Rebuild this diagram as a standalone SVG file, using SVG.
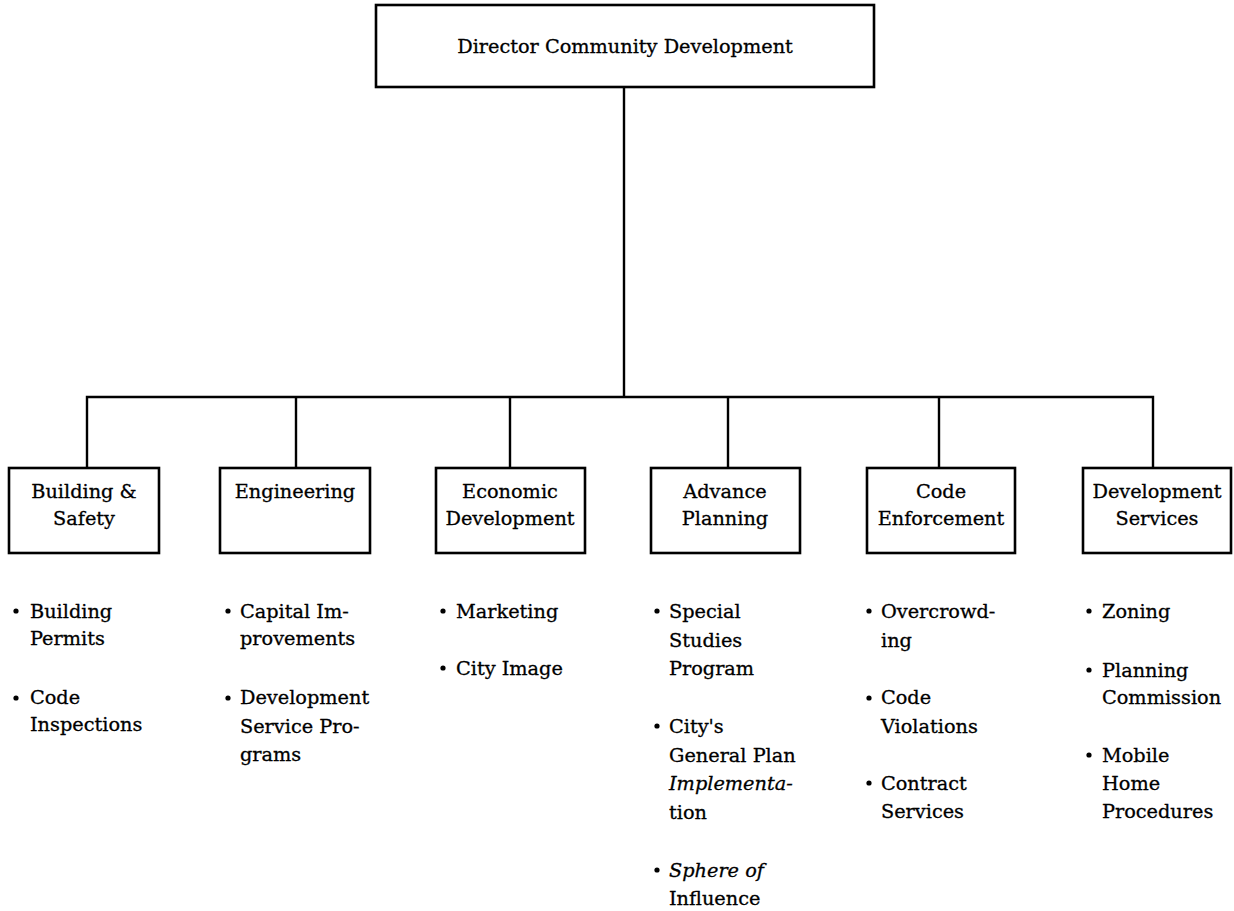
<svg xmlns="http://www.w3.org/2000/svg" width="1234" height="911" viewBox="0 0 1234 911">
<style>
.bg{fill:#fff}
.box{fill:#fff;stroke:#000;stroke-width:2.6}
.ln{fill:none;stroke:#000;stroke-width:2.4}
text{font-family:"DejaVu Serif","Liberation Serif",serif;font-size:19.3px;fill:#000;stroke:#000;stroke-width:0.3}
.c{text-anchor:middle}
.i{font-style:italic}
.dot{fill:#000}
</style>
<rect class="bg" x="0" y="0" width="1234" height="911"/>
<g id="connectors">
<path class="ln" d="M624 87V397"/>
<path class="ln" d="M87 468V397H1153V468"/>
<path class="ln" d="M296 397V468"/>
<path class="ln" d="M510 397V468"/>
<path class="ln" d="M728 397V468"/>
<path class="ln" d="M939 397V468"/>
</g>
<g id="director">
<rect class="box" x="376" y="5" width="498" height="82"/>
<text class="c" x="625" y="53">Director Community Development</text>
</g>
<g id="building-safety">
<rect class="box" x="9" y="468" width="150" height="85"/>
<text class="c" x="84" y="498">Building &amp;</text>
<text class="c" x="84" y="525">Safety</text>
<circle class="dot" cx="16" cy="611" r="2.6"/>
<text x="30" y="618">Building</text>
<text x="30" y="645">Permits</text>
<circle class="dot" cx="16" cy="698" r="2.6"/>
<text x="30" y="704">Code</text>
<text x="30" y="731">Inspections</text>
</g>
<g id="engineering">
<rect class="box" x="220" y="468" width="150" height="85"/>
<text class="c" x="295" y="498">Engineering</text>
<circle class="dot" cx="228" cy="611" r="2.6"/>
<text x="240" y="618">Capital Im-</text>
<text x="240" y="645">provements</text>
<circle class="dot" cx="228" cy="698" r="2.6"/>
<text x="240" y="704">Development</text>
<text x="240" y="733">Service Pro-</text>
<text x="240" y="761">grams</text>
</g>
<g id="economic-development">
<rect class="box" x="436" y="468" width="149" height="85"/>
<text class="c" x="510" y="498">Economic</text>
<text class="c" x="510" y="525">Development</text>
<circle class="dot" cx="443" cy="611" r="2.6"/>
<text x="456" y="618">Marketing</text>
<circle class="dot" cx="443" cy="668" r="2.6"/>
<text x="456" y="675">City Image</text>
</g>
<g id="advance-planning">
<rect class="box" x="651" y="468" width="149" height="85"/>
<text class="c" x="725" y="498">Advance</text>
<text class="c" x="725" y="525">Planning</text>
<circle class="dot" cx="657" cy="611" r="2.6"/>
<text x="669" y="618">Special</text>
<text x="669" y="647">Studies</text>
<text x="669" y="675">Program</text>
<circle class="dot" cx="657" cy="726" r="2.6"/>
<text x="669" y="733">City's</text>
<text x="669" y="762">General Plan</text>
<text class="i" x="669" y="790">Implementa-</text>
<text x="669" y="819">tion</text>
<circle class="dot" cx="657" cy="870" r="2.6"/>
<text class="i" x="669" y="877">Sphere of</text>
<text x="669" y="905">Influence</text>
</g>
<g id="code-enforcement">
<rect class="box" x="867" y="468" width="148" height="85"/>
<text class="c" x="941" y="498">Code</text>
<text class="c" x="941" y="525">Enforcement</text>
<circle class="dot" cx="869" cy="611" r="2.6"/>
<text x="881" y="618">Overcrowd-</text>
<text x="881" y="647">ing</text>
<circle class="dot" cx="869" cy="698" r="2.6"/>
<text x="881" y="704">Code</text>
<text x="881" y="733">Violations</text>
<circle class="dot" cx="869" cy="783" r="2.6"/>
<text x="881" y="790">Contract</text>
<text x="881" y="818">Services</text>
</g>
<g id="development-services">
<rect class="box" x="1083" y="468" width="148" height="85"/>
<text class="c" x="1157" y="498">Development</text>
<text class="c" x="1157" y="525">Services</text>
<circle class="dot" cx="1089" cy="611" r="2.6"/>
<text x="1102" y="618">Zoning</text>
<circle class="dot" cx="1089" cy="670" r="2.6"/>
<text x="1102" y="677">Planning</text>
<text x="1102" y="704">Commission</text>
<circle class="dot" cx="1089" cy="755" r="2.6"/>
<text x="1102" y="762">Mobile</text>
<text x="1102" y="790">Home</text>
<text x="1102" y="818">Procedures</text>
</g>
</svg>
